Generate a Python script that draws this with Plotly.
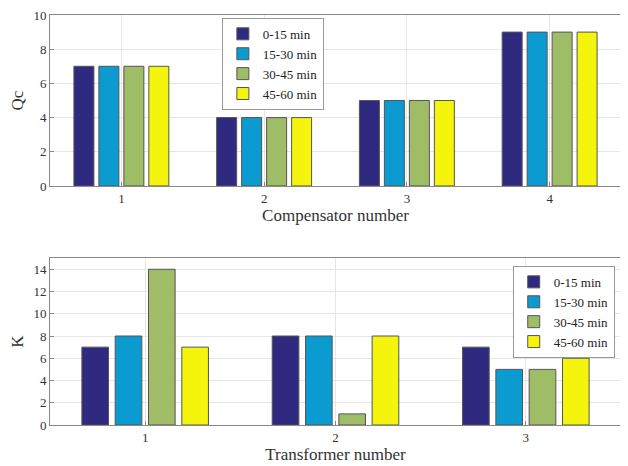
import plotly.graph_objects as go
from plotly.subplots import make_subplots

series = ["0-15 min", "15-30 min", "30-45 min", "45-60 min"]
colors = ["#2f2a7f", "#0b9bd0", "#9fbc66", "#f4f40c"]

comp_x = [1, 2, 3, 4]
qc_values = [
    [7, 4, 5, 9],
    [7, 4, 5, 9],
    [7, 4, 5, 9],
    [7, 4, 5, 9],
]

trans_x = [1, 2, 3]
k_values = [
    [7, 8, 7],
    [8, 8, 5],
    [14, 1, 5],
    [7, 8, 6],
]

font_family = "Liberation Serif"

fig = make_subplots(rows=2, cols=1)

for i, name in enumerate(series):
    fig.add_trace(go.Bar(x=comp_x, y=qc_values[i], name=name,
                         marker=dict(color=colors[i], line=dict(color="#555555", width=1)),
                         legend="legend"), row=1, col=1)
for i, name in enumerate(series):
    fig.add_trace(go.Bar(x=trans_x, y=k_values[i], name=name,
                         marker=dict(color=colors[i], line=dict(color="#555555", width=1)),
                         legend="legend2", showlegend=True), row=2, col=1)

axis_common = dict(showline=True, mirror=True, linecolor="#888888", linewidth=1,
                   showgrid=True, gridcolor="#e6e6e6", zeroline=False,
                   ticks="inside", ticklen=4, tickcolor="#888888", automargin=False,
                   ticklabeloverflow="allow",
                   tickfont=dict(family=font_family, size=13, color="#333333"))

title_font = dict(family=font_family, size=17, color="#333333")
leg_font = dict(family=font_family, size=13, color="#222222")

# page body has an 8px default margin; the figure is sized to fit the 628x466 window
fig.update_layout(
    width=620, height=458,
    margin=dict(l=42, r=7, t=7, b=41),
    paper_bgcolor="white", plot_bgcolor="white",
    barmode="group", bargap=0.3, bargroupgap=0.2,
    font=dict(family=font_family, color="#333333"),
    xaxis=dict(domain=[0, 1], range=[0.5, 4.5], tickvals=comp_x, **axis_common,
               title=dict(text="Compensator number", font=title_font, standoff=2)),
    yaxis=dict(domain=[0.583, 1], range=[0, 10], dtick=2, **axis_common,
               title=dict(text="Qc", font=title_font, standoff=10)),
    xaxis2=dict(domain=[0, 1], range=[0.5, 3.5], tickvals=trans_x, **axis_common,
                title=dict(text="Transformer number", font=title_font, standoff=2)),
    yaxis2=dict(domain=[0, 0.407], range=[0, 15], tickvals=[0, 2, 4, 6, 8, 10, 12, 14], **axis_common,
                title=dict(text="K", font=title_font, standoff=10)),
    legend=dict(x=0.301, y=0.993, xanchor="left", yanchor="top",
                bgcolor="white", bordercolor="#999999", borderwidth=1,
                font=leg_font, itemwidth=30, tracegroupgap=0, traceorder="normal"),
    legend2=dict(x=0.989, y=0.388, xanchor="right", yanchor="top",
                 bgcolor="white", bordercolor="#999999", borderwidth=1,
                 font=leg_font, itemwidth=30, tracegroupgap=0, traceorder="normal"),
)

fig.write_html("out.html")
